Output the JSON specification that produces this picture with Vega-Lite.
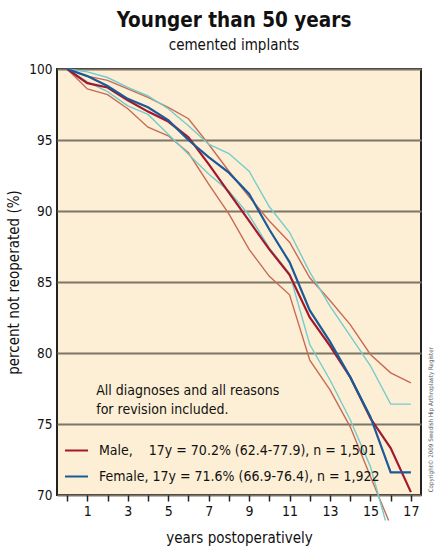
{
  "$schema": "https://vega.github.io/schema/vega-lite/v6.json",
  "width": 364,
  "height": 426,
  "autosize": {"type": "none"},
  "padding": {"left": 57, "top": 69, "right": 17, "bottom": 53},
  "background": "white",
  "config": {
    "font": "'DejaVu Sans Condensed', 'Liberation Sans Narrow', sans-serif",
    "view": {"fill": "#fdefd5", "stroke": "#222222", "strokeWidth": 2}
  },
  "title": {
    "text": "Younger than 50 years",
    "subtitle": "cemented implants",
    "anchor": "middle",
    "dx": -5,
    "fontSize": 20.5,
    "fontWeight": "bold",
    "color": "#111111",
    "subtitleFontSize": 15,
    "subtitleColor": "#111111",
    "subtitlePadding": 7,
    "offset": 9
  },
  "data": {
    "values": [
      {"s": "Male", "t": 0, "v": 100}, {"s": "Male", "t": 1, "v": 99.0}, {"s": "Male", "t": 2, "v": 98.7}, {"s": "Male", "t": 3, "v": 97.8}, {"s": "Male", "t": 4, "v": 97.0}, {"s": "Male", "t": 5, "v": 96.3}, {"s": "Male", "t": 6, "v": 95.2}, {"s": "Male", "t": 7, "v": 93.3}, {"s": "Male", "t": 8, "v": 91.3}, {"s": "Male", "t": 9, "v": 89.3}, {"s": "Male", "t": 10, "v": 87.3}, {"s": "Male", "t": 11, "v": 85.5}, {"s": "Male", "t": 12, "v": 82.5}, {"s": "Male", "t": 13, "v": 80.5}, {"s": "Male", "t": 14, "v": 78.3}, {"s": "Male", "t": 15, "v": 75.4}, {"s": "Male", "t": 16, "v": 73.3}, {"s": "Male", "t": 17, "v": 70.2},
      {"s": "Female", "t": 0, "v": 100}, {"s": "Female", "t": 1, "v": 99.5}, {"s": "Female", "t": 2, "v": 98.8}, {"s": "Female", "t": 3, "v": 97.9}, {"s": "Female", "t": 4, "v": 97.3}, {"s": "Female", "t": 5, "v": 96.4}, {"s": "Female", "t": 6, "v": 95.0}, {"s": "Female", "t": 7, "v": 93.8}, {"s": "Female", "t": 8, "v": 92.7}, {"s": "Female", "t": 9, "v": 91.2}, {"s": "Female", "t": 10, "v": 88.7}, {"s": "Female", "t": 11, "v": 86.4}, {"s": "Female", "t": 12, "v": 83.0}, {"s": "Female", "t": 13, "v": 80.8}, {"s": "Female", "t": 14, "v": 78.3}, {"s": "Female", "t": 15, "v": 75.5}, {"s": "Female", "t": 16, "v": 71.6}, {"s": "Female", "t": 17, "v": 71.6},
      {"s": "Male hi", "t": 0, "v": 100}, {"s": "Male hi", "t": 1, "v": 99.5}, {"s": "Male hi", "t": 2, "v": 99.2}, {"s": "Male hi", "t": 3, "v": 98.6}, {"s": "Male hi", "t": 4, "v": 98.0}, {"s": "Male hi", "t": 5, "v": 97.3}, {"s": "Male hi", "t": 6, "v": 96.5}, {"s": "Male hi", "t": 7, "v": 94.7}, {"s": "Male hi", "t": 8, "v": 92.8}, {"s": "Male hi", "t": 9, "v": 91.0}, {"s": "Male hi", "t": 10, "v": 89.3}, {"s": "Male hi", "t": 11, "v": 87.8}, {"s": "Male hi", "t": 12, "v": 85.3}, {"s": "Male hi", "t": 13, "v": 83.7}, {"s": "Male hi", "t": 14, "v": 82.0}, {"s": "Male hi", "t": 15, "v": 79.9}, {"s": "Male hi", "t": 16, "v": 78.6}, {"s": "Male hi", "t": 17, "v": 77.9},
      {"s": "Male lo", "t": 0, "v": 100}, {"s": "Male lo", "t": 1, "v": 98.6}, {"s": "Male lo", "t": 2, "v": 98.2}, {"s": "Male lo", "t": 3, "v": 97.2}, {"s": "Male lo", "t": 4, "v": 95.9}, {"s": "Male lo", "t": 5, "v": 95.3}, {"s": "Male lo", "t": 6, "v": 94.1}, {"s": "Male lo", "t": 7, "v": 91.9}, {"s": "Male lo", "t": 8, "v": 89.8}, {"s": "Male lo", "t": 9, "v": 87.3}, {"s": "Male lo", "t": 10, "v": 85.4}, {"s": "Male lo", "t": 11, "v": 84.1}, {"s": "Male lo", "t": 12, "v": 79.5}, {"s": "Male lo", "t": 13, "v": 77.4}, {"s": "Male lo", "t": 14, "v": 74.8}, {"s": "Male lo", "t": 15, "v": 71.3}, {"s": "Male lo", "t": 15.9, "v": 68.2},
      {"s": "Female hi", "t": 0, "v": 100}, {"s": "Female hi", "t": 1, "v": 99.8}, {"s": "Female hi", "t": 2, "v": 99.4}, {"s": "Female hi", "t": 3, "v": 98.7}, {"s": "Female hi", "t": 4, "v": 98.1}, {"s": "Female hi", "t": 5, "v": 97.2}, {"s": "Female hi", "t": 6, "v": 96.0}, {"s": "Female hi", "t": 7, "v": 94.7}, {"s": "Female hi", "t": 8, "v": 94.05}, {"s": "Female hi", "t": 9, "v": 92.8}, {"s": "Female hi", "t": 10, "v": 90.3}, {"s": "Female hi", "t": 11, "v": 88.5}, {"s": "Female hi", "t": 12, "v": 85.7}, {"s": "Female hi", "t": 13, "v": 83.3}, {"s": "Female hi", "t": 14, "v": 81.2}, {"s": "Female hi", "t": 15, "v": 79.1}, {"s": "Female hi", "t": 16, "v": 76.4}, {"s": "Female hi", "t": 17, "v": 76.4},
      {"s": "Female lo", "t": 0, "v": 100}, {"s": "Female lo", "t": 1, "v": 99.1}, {"s": "Female lo", "t": 2, "v": 98.4}, {"s": "Female lo", "t": 3, "v": 97.4}, {"s": "Female lo", "t": 4, "v": 96.8}, {"s": "Female lo", "t": 5, "v": 95.4}, {"s": "Female lo", "t": 6, "v": 94.0}, {"s": "Female lo", "t": 7, "v": 92.6}, {"s": "Female lo", "t": 8, "v": 91.4}, {"s": "Female lo", "t": 9, "v": 89.7}, {"s": "Female lo", "t": 10, "v": 87.4}, {"s": "Female lo", "t": 11, "v": 85.6}, {"s": "Female lo", "t": 12, "v": 80.6}, {"s": "Female lo", "t": 13, "v": 78.1}, {"s": "Female lo", "t": 14, "v": 75.3}, {"s": "Female lo", "t": 15, "v": 72.0}, {"s": "Female lo", "t": 15.74, "v": 68.2}
    ]
  },
  "encoding": {
    "x": {
      "field": "t", "type": "quantitative",
      "scale": {"domain": [-0.5, 17.5], "nice": false, "zero": false},
      "axis": {
        "values": [0,1,2,3,4,5,6,7,8,9,10,11,12,13,14,15,16,17],
        "labelExpr": "datum.value % 2 == 1 ? datum.label : ''",
        "grid": false, "domain": false,
        "tickColor": "#222222", "tickSize": 6, "tickWidth": 1.5,
        "labelFontSize": 14, "labelColor": "#111111", "labelPadding": 3,
        "title": "years postoperatively", "titleFontSize": 15, "titleFontWeight": "normal",
        "titleColor": "#111111", "titlePadding": 12
      }
    },
    "y": {
      "field": "v", "type": "quantitative",
      "scale": {"domain": [70, 100], "nice": false, "zero": false},
      "axis": {
        "values": [70, 75, 80, 85, 90, 95, 100],
        "grid": true, "gridColor": "#7d7566", "gridWidth": 2,
        "domain": false, "ticks": false,
        "labelFontSize": 13.5, "labelColor": "#111111", "labelPadding": 5,
        "title": "percent not reoperated (%)", "titleFontSize": 15, "titleFontWeight": "normal",
        "titleColor": "#111111", "titlePadding": 7
      }
    }
  },
  "layer": [
    {
      "transform": [{"filter": "indexof(datum.s, ' ') > 0"}],
      "mark": {"type": "line", "strokeWidth": 1.4, "clip": false},
      "encoding": {
        "color": {
          "field": "s", "type": "nominal",
          "scale": {"domain": ["Male", "Female", "Male hi", "Male lo", "Female hi", "Female lo"], "range": ["#a3182c", "#1a5b97", "#c66b57", "#c66b57", "#74cccc", "#74cccc"]},
          "legend": {
            "values": ["Male", "Female"],
            "orient": "none", "legendX": 7, "legendY": 369,
            "title": null,
            "symbolType": "stroke", "symbolSize": 529, "symbolStrokeWidth": 2,
            "labelFontSize": 14, "labelColor": "#111111", "labelLimit": 400, "labelOffset": 10,
            "rowPadding": 6,
            "labelExpr": "datum.label == 'Male' ? 'Male,\u00a0\u00a0\u00a0\u00a017y = 70.2% (62.4-77.9), n = 1,501' : 'Female, 17y = 71.6% (66.9-76.4), n = 1,922'"
          }
        }
      }
    },
    {
      "transform": [{"filter": "indexof(datum.s, ' ') < 0"}],
      "mark": {"type": "line", "strokeWidth": 2.2, "clip": false},
      "encoding": {
        "color": {"field": "s", "type": "nominal"}
      }
    },
    {
      "transform": [{"filter": "datum.s == 'Male' && datum.t == 0"}],
      "mark": {"type": "text", "align": "left", "baseline": "top", "fontSize": 14, "lineHeight": 19, "fill": "#111111"},
      "encoding": {
        "x": {"datum": 1.44},
        "y": {"datum": 77.85},
        "text": {"value": ["All diagnoses and all reasons", "for revision included."]}
      }
    },
    {
      "transform": [{"filter": "datum.s == 'Male' && datum.t == 0"}],
      "mark": {"type": "text", "align": "center", "baseline": "middle", "angle": 270, "fontSize": 6.2, "fill": "#555555"},
      "encoding": {
        "x": {"datum": 18.0},
        "y": {"datum": 75.3},
        "text": {"value": "Copyright\u00a9 2009 Swedish Hip Arthroplasty Register"}
      }
    }
  ]
}
